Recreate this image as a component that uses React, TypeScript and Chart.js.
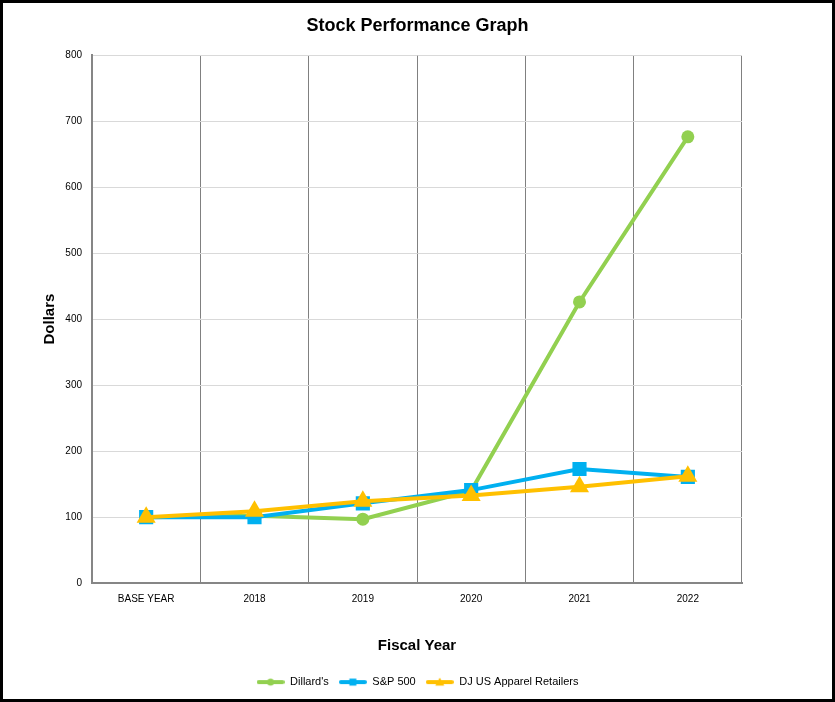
import React, { useEffect, useRef } from "react";
import { Chart, registerables } from "chart.js";

Chart.register(...registerables);

const categories = ["BASE YEAR", "2018", "2019", "2020", "2021", "2022"];
const dillards = [100, 102, 97, 140, 426, 676];
const sp500 = [100, 100, 121, 141, 173, 161];
const djApparel = [100, 109, 124, 133, 146, 162];
const seriesNames = ["Dillard's", "S&P 500", "DJ US Apparel Retailers"];
const yTicks = [0, 100, 200, 300, 400, 500, 600, 700, 800];

const GREEN = "#92D050";
const BLUE = "#00B0F0";
const YELLOW = "#FFC000";
const FONT = "'Liberation Sans', Arial, sans-serif";

function legendIcon(color: string, shape: string): HTMLCanvasElement {
  const c = document.createElement("canvas");
  c.width = 28;
  c.height = 12;
  const ctx = c.getContext("2d")!;
  ctx.strokeStyle = color;
  ctx.fillStyle = color;
  ctx.lineWidth = 4;
  ctx.lineCap = "round";
  ctx.beginPath();
  ctx.moveTo(2, 6);
  ctx.lineTo(26, 6);
  ctx.stroke();
  ctx.beginPath();
  if (shape === "circle") {
    ctx.arc(14, 6, 3.5, 0, Math.PI * 2);
  } else if (shape === "rect") {
    ctx.rect(10.5, 2.5, 7, 7);
  } else {
    ctx.moveTo(14, 1.5);
    ctx.lineTo(18.5, 9.5);
    ctx.lineTo(9.5, 9.5);
    ctx.closePath();
  }
  ctx.fill();
  return c;
}

export default function App() {
  const ref = useRef<HTMLCanvasElement | null>(null);

  useEffect(() => {
    if (!ref.current) return;
    const icons = [
      legendIcon(GREEN, "circle"),
      legendIcon(BLUE, "rect"),
      legendIcon(YELLOW, "triangle"),
    ];
    const chart = new Chart(ref.current, {
      type: "line",
      data: {
        labels: categories,
        datasets: [
          {
            label: seriesNames[0],
            data: dillards,
            borderColor: GREEN,
            backgroundColor: GREEN,
            borderWidth: 4,
            pointStyle: "circle",
            pointRadius: 6.5,
            pointBorderWidth: 0,
            order: 2,
            fill: false,
          },
          {
            label: seriesNames[1],
            data: sp500,
            borderColor: BLUE,
            backgroundColor: BLUE,
            borderWidth: 4,
            pointStyle: "rect",
            pointRadius: 10,
            pointBorderWidth: 0,
            order: 1,
            fill: false,
          },
          {
            label: seriesNames[2],
            data: djApparel,
            borderColor: YELLOW,
            backgroundColor: YELLOW,
            borderWidth: 4,
            pointStyle: "triangle",
            pointRadius: 11,
            pointBorderWidth: 0,
            order: 0,
            fill: false,
          },
        ],
      },
      options: {
        responsive: false,
        animation: false,
        layout: { padding: { left: 0, right: 0, top: 0, bottom: 1.4 } },
        plugins: {
          title: {
            display: true,
            text: "Stock Performance Graph",
            color: "#000",
            font: { family: FONT, size: 18, weight: "bold" },
            padding: { top: 12, bottom: 18.4 },
          },
          legend: {
            position: "bottom",
            labels: {
              usePointStyle: true,
              pointStyleWidth: 28,
              boxHeight: 11,
              padding: 10,
              color: "#000",
              font: { family: FONT, size: 11 },
              sort: (a: any, b: any) => a.datasetIndex - b.datasetIndex,
              generateLabels: (ch: any) => {
                const items = Chart.defaults.plugins.legend.labels.generateLabels(ch);
                items.forEach((it: any) => {
                  it.pointStyle = icons[it.datasetIndex];
                });
                return items;
              },
            },
          },
          tooltip: { enabled: false },
        },
        scales: {
          x: {
            offset: true,
            grid: {
              offset: true,
              color: "#808080",
              lineWidth: 1,
              drawTicks: false,
            },
            border: { color: "#868686", width: 2 },
            ticks: {
              color: "#000",
              font: { family: FONT, size: 10 },
              padding: 10,
              maxRotation: 0,
            },
            title: {
              display: true,
              text: "Fiscal Year",
              color: "#000",
              font: { family: FONT, size: 15, weight: "bold" },
              padding: { top: 0, bottom: 11.4 },
            },
            afterFit: (s: any) => {
              s.height = 83.4;
            },
          },
          y: {
            min: 0,
            max: 800,
            afterBuildTicks: (s: any) => {
              s.ticks = yTicks.map((v) => ({ value: v }));
            },
            grid: { color: "#D9D9D9", lineWidth: 1, drawTicks: false },
            border: { color: "#868686", width: 2 },
            ticks: {
              color: "#000",
              font: { family: FONT, size: 10 },
              padding: 10,
            },
            title: {
              display: true,
              text: "Dollars",
              color: "#000",
              font: { family: FONT, size: 15, weight: "bold" },
              padding: { top: 38, bottom: 0 },
            },
            afterFit: (s: any) => {
              s.width = 89;
            },
          },
          spacer: {
            type: "linear",
            position: "right",
            display: true,
            grid: { display: false, drawTicks: false },
            border: { display: false },
            ticks: { display: false },
            afterFit: (s: any) => {
              s.width = 90;
            },
          },
        },
      },
    });
    return () => chart.destroy();
  }, []);

  return (
    <div
      style={{
        position: "absolute",
        left: 0,
        top: 0,
        width: 835,
        height: 702,
        boxSizing: "border-box",
        border: "3px solid #000",
        background: "#fff",
      }}
    >
      <canvas ref={ref} width={829} height={696} style={{ display: "block" }} />
    </div>
  );
}
